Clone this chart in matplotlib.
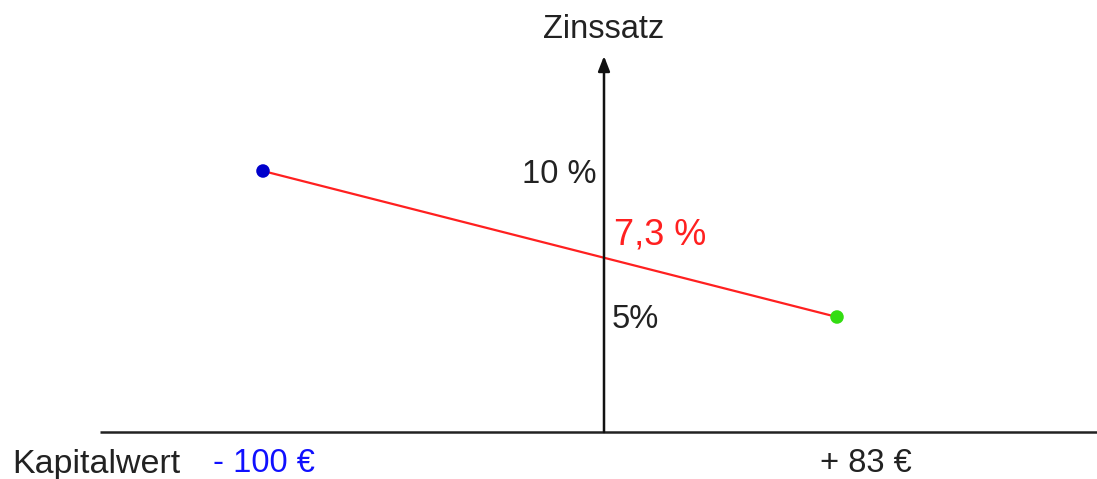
import matplotlib.pyplot as plt

plt.rcParams['font.family'] = ['Liberation Sans', 'DejaVu Sans']

# Kapitalwert (EUR) at the two trial interest rates (%)
kapitalwert = [-100, 83]
zinssatz = [10, 5]
point_colors = ['#0000cc', '#33dd11']
value_labels = ['- 100 €', '+ 83 €']
value_colors = ['#1010ff', '#222222']
irr_label = '7,3 %'

W, H = 1097, 479

# pixel anchors of the two points, used to fix the axis limits
PX = (263, 837)
PY = (171, 317)


def lin(p0, p1, v0, v1):
    k = (v1 - v0) / (p1 - p0)
    return lambda p: v0 + (p - p0) * k


x_of = lin(PX[0], PX[1], kapitalwert[0], kapitalwert[1])
y_of = lin(PY[0], PY[1], zinssatz[0], zinssatz[1])
dy = y_of(3) - y_of(0)  # nudge text baselines down a little

fig = plt.figure(figsize=(W / 100, H / 100), dpi=100)
ax = fig.add_axes([0, 0, 1, 1])
ax.set_xlim(x_of(0), x_of(W))
ax.set_ylim(y_of(H), y_of(0))
ax.axis('off')

axis_x = x_of(604)
axis_y = y_of(432)

# coordinate axes
ax.plot([x_of(100), x_of(W)], [axis_y, axis_y], color='#222222', lw=1.8,
        solid_capstyle='butt')
ax.annotate('', xy=(axis_x, y_of(56)), xytext=(axis_x, axis_y),
            arrowprops=dict(arrowstyle='-|>,head_length=0.9,head_width=0.35',
                            color='#111111', lw=1.8, shrinkA=0, shrinkB=0))

# interpolation line and the two trial points
ax.plot(kapitalwert, zinssatz, color='#ff2020', lw=1.6, zorder=2)
ax.scatter(kapitalwert, zinssatz, c=point_colors, s=95, zorder=3,
           edgecolors='none')

fs = 23.5
ax.text(axis_x, y_of(30), 'Zinssatz', ha='center', va='center',
        fontsize=fs, color='#222222')
ax.text(x_of(596), zinssatz[0] + dy, f'{zinssatz[0]} %', ha='right',
        va='center', fontsize=fs, color='#222222')
ax.text(x_of(612), zinssatz[1] + dy, f'{zinssatz[1]}%', ha='left',
        va='center', fontsize=fs, color='#222222')
ax.text(x_of(614), y_of(235), irr_label, ha='left', va='center',
        fontsize=26, color='#ff2020')

ax.text(x_of(12), y_of(464), 'Kapitalwert', ha='left', va='center',
        fontsize=24.5, color='#222222')
ax.text(x_of(213), y_of(464), value_labels[0], ha='left', va='center',
        fontsize=fs, color=value_colors[0])
ax.text(x_of(820), y_of(464), value_labels[1], ha='left', va='center',
        fontsize=fs, color=value_colors[1])

fig.savefig('out.png', dpi=100)
